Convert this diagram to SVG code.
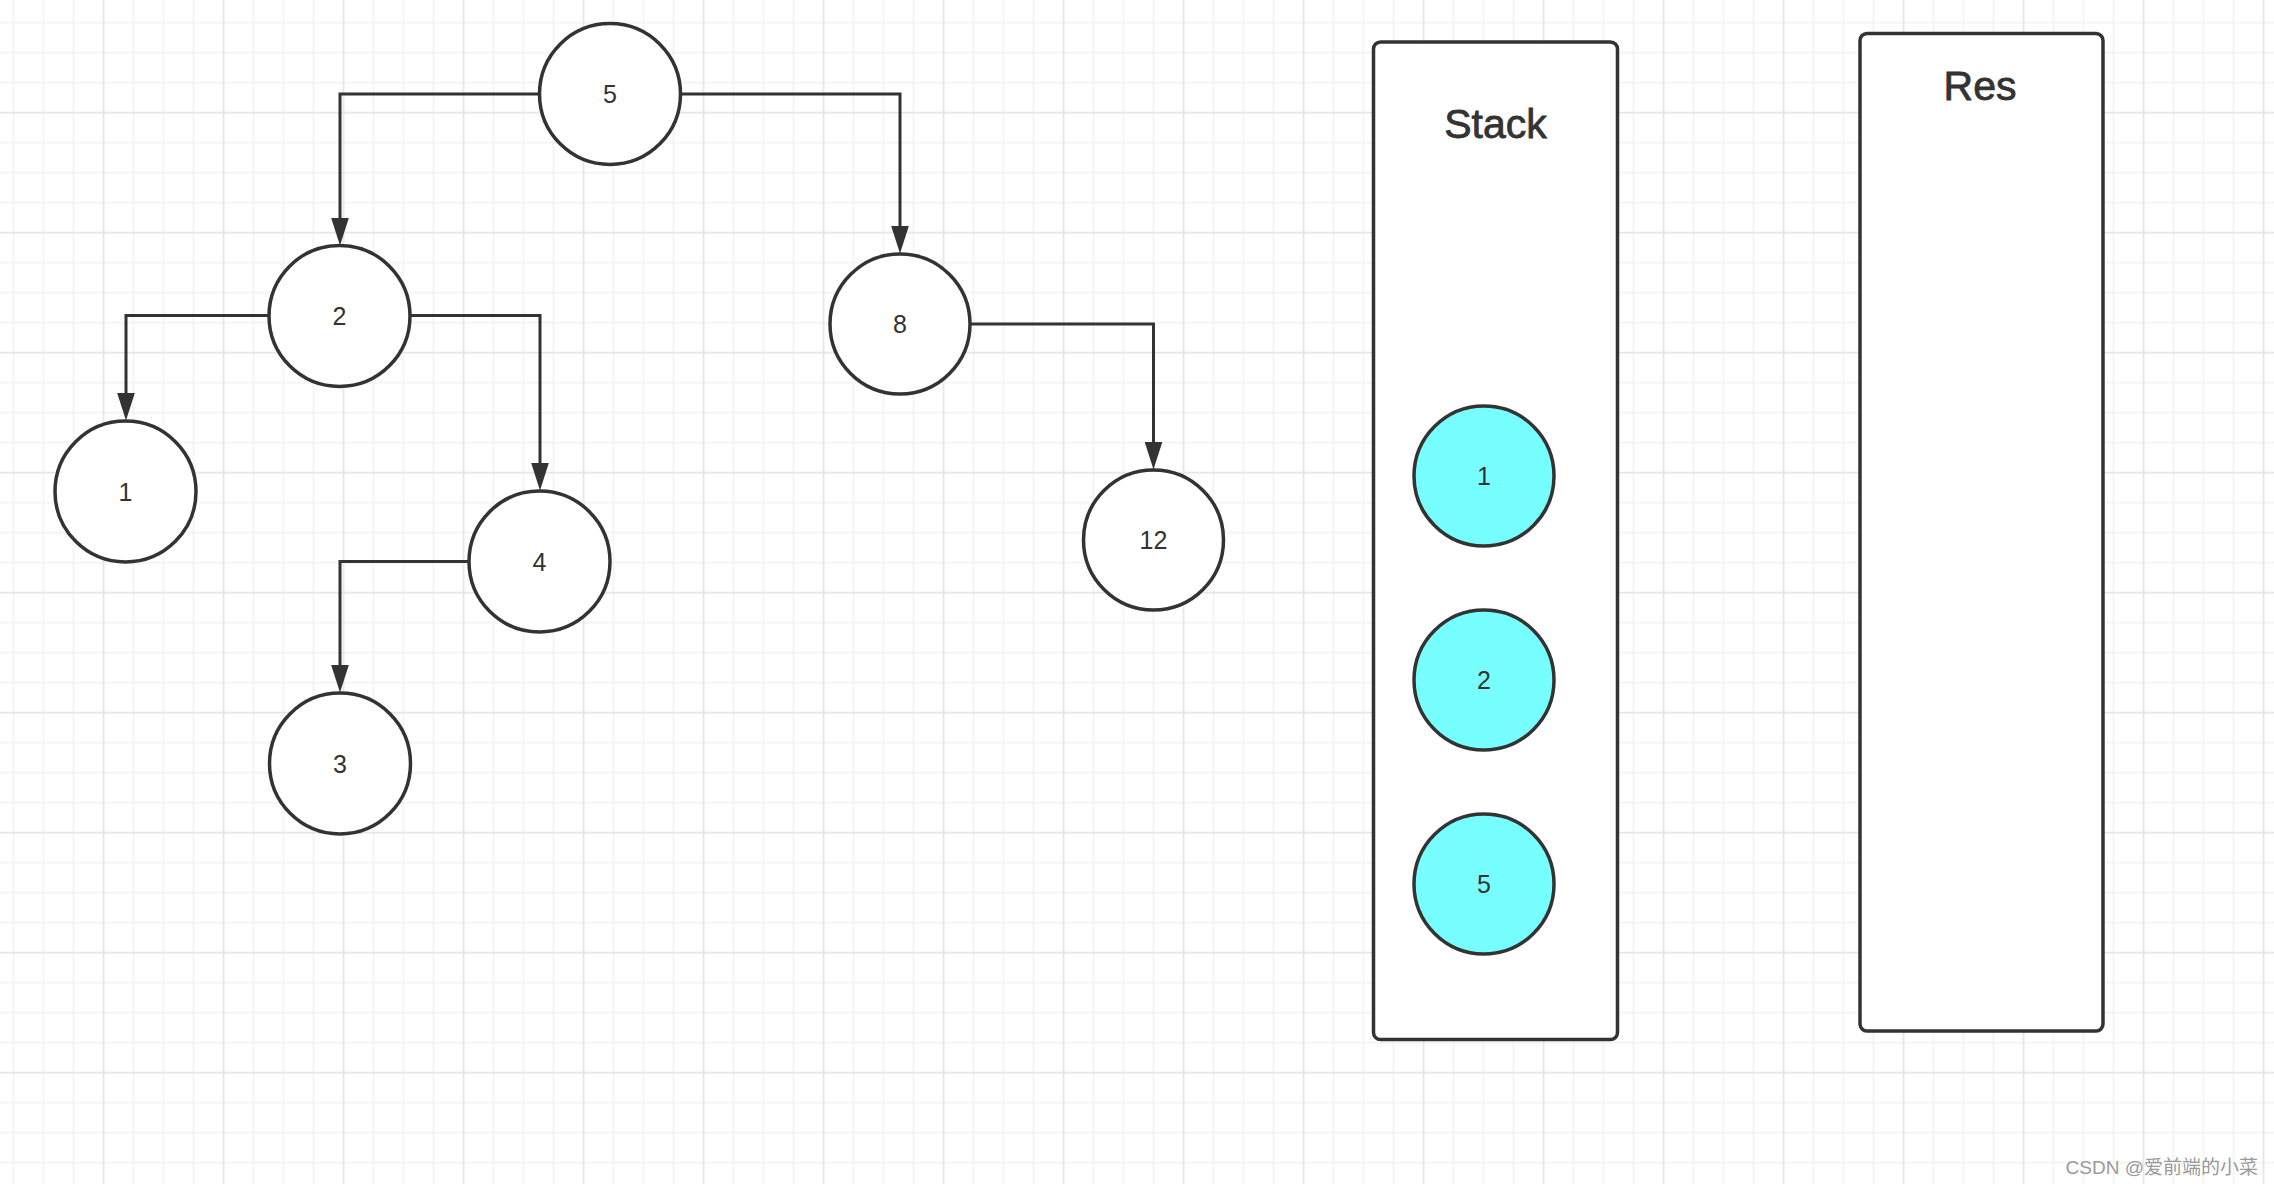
<svg xmlns="http://www.w3.org/2000/svg" width="2274" height="1184" viewBox="0 0 2274 1184">
<style>
.node ellipse,.node circle{fill:#ffffff;stroke:#333333;stroke-width:3.5}
.node.cyan circle{fill:#77ffff}
.node text{font-family:"Liberation Sans",Arial,sans-serif;font-size:25px;fill:#333333;text-anchor:middle}
.box rect{fill:#ffffff;stroke:#333333;stroke-width:3.5}
.box text{font-family:"Liberation Sans",Arial,sans-serif;font-size:41px;fill:#333333;text-anchor:middle;stroke:#333333;stroke-width:0.8}
.edge{fill:none;stroke:#333333;stroke-width:3;marker-end:url(#arrow)}
.wm{font-family:"Liberation Sans","Noto Sans CJK SC",sans-serif;font-size:19px;fill:#9a9a9a;text-anchor:end}
</style>
<defs>
<pattern id="grid" patternUnits="userSpaceOnUse" x="28.5" y="37.7" width="120" height="120">
<path d="M15,0V120M45,0V120M105,0V120M0,15H120M0,45H120M0,105H120" stroke="#f2f2f2" stroke-width="1.5" fill="none"/>
<path d="M75,0V120M0,75H120" stroke="#e8e8e8" stroke-width="2" fill="none"/>
</pattern>
<marker id="arrow" markerUnits="userSpaceOnUse" markerWidth="28" markerHeight="18" refX="8" refY="9" orient="auto" viewBox="0 0 28 18">
<path d="M0,0L28,9L0,18Z" fill="#333333"/>
</marker>
</defs>
<rect width="2274" height="1184" fill="#ffffff"/>
<rect width="2274" height="1184" fill="url(#grid)"/>

<g id="connectors">
<path class="edge" d="M539.5,94H340V225.5"/>
<path class="edge" d="M680.5,94H900V233.5"/>
<path class="edge" d="M269.5,315.5H126V400.5"/>
<path class="edge" d="M409.5,315.5H540V470.5"/>
<path class="edge" d="M469.5,561.5H340V672.5"/>
<path class="edge" d="M969.5,324H1153.5V449.5"/>
</g>

<g id="node-5" class="node"><circle cx="610" cy="94" r="70.5"/><text x="610" y="103.3">5</text></g>
<g id="node-2" class="node"><circle cx="339.5" cy="316" r="70.5"/><text x="339.5" y="325.3">2</text></g>
<g id="node-8" class="node"><circle cx="900" cy="324" r="70"/><text x="900" y="333.3">8</text></g>
<g id="node-1" class="node"><circle cx="125.5" cy="491.5" r="70.5"/><text x="125.5" y="500.8">1</text></g>
<g id="node-4" class="node"><circle cx="539.5" cy="561.5" r="70.5"/><text x="539.5" y="570.8">4</text></g>
<g id="node-12" class="node"><circle cx="1153.5" cy="540" r="70"/><text x="1153.5" y="549.3">12</text></g>
<g id="node-3" class="node"><circle cx="340" cy="763.5" r="70.5"/><text x="340" y="772.8">3</text></g>

<g id="stack" class="box"><rect x="1373.5" y="42" width="244" height="997.5" rx="7"/><text x="1495.5" y="138">Stack</text></g>
<g id="res" class="box"><rect x="1860" y="33.5" width="243" height="997.5" rx="7"/><text x="1980" y="99.5">Res</text></g>

<g id="stack-1" class="node cyan"><circle cx="1484" cy="476" r="70"/><text x="1484" y="485.3">1</text></g>
<g id="stack-2" class="node cyan"><circle cx="1484" cy="680" r="70"/><text x="1484" y="689.3">2</text></g>
<g id="stack-5" class="node cyan"><circle cx="1484" cy="884" r="70"/><text x="1484" y="893.3">5</text></g>

<text class="wm" x="2258" y="1174">CSDN @爱前端的小菜</text>
</svg>
